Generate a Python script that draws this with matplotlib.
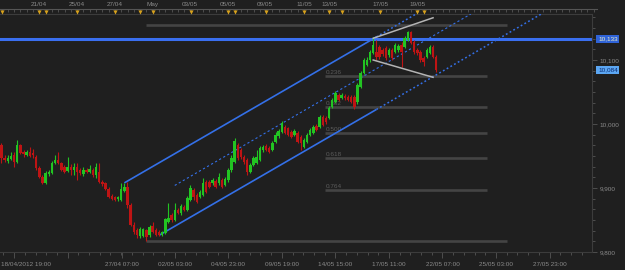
import matplotlib
matplotlib.use("Agg")
import matplotlib.pyplot as plt
from matplotlib.transforms import blended_transform_factory
from matplotlib.ticker import FixedLocator, FuncFormatter

# ---------------- data (4h bars, index = bar number) ----------------
opens = [9967, 9947, 9942, 9945, 9952, 9941, 9967, 9956, 9952, 9956,
         9955, 9948, 9931, 9917, 9908, 9922, 9923, 9939, 9944, 9939,
         9933, 9927, 9933, 9928, 9933, 9928, 9922, 9928, 9925, 9928,
         9920, 9925, 9909, 9908, 9898, 9888, 9886, 9883, 9881, 9895,
         9902, 9873, 9842, 9834, 9825, 9825, 9834, 9827, 9841, 9834,
         9831, 9827, 9830, 9847, 9858, 9850, 9866, 9861, 9870, 9866,
         9881, 9897, 9889, 9886, 9889, 9909, 9909, 9908, 9911, 9908,
         9912, 9905, 9912, 9928, 9941, 9967, 9959, 9948, 9944, 9925,
         9936, 9939, 9944, 9959, 9966, 9962, 9959, 9972, 9981, 9988,
         9995, 9994, 9988, 9983, 9986, 9980, 9964, 9972, 9983, 9986,
         9997, 9995, 10011, 10009, 10009, 10027, 10034, 10045, 10041, 10044,
         10042, 10042, 10042, 10034, 10058, 10080, 10092, 10100, 10111, 10112,
         10120, 10116, 10119, 10108, 10116, 10112, 10116, 10123, 10120, 10131,
         10144, 10128, 10116, 10112, 10103, 10105, 10111, 10120, 10105]
closes = [9947, 9944, 9947, 9950, 9941, 9967, 9955, 9953, 9956, 9950,
          9952, 9931, 9917, 9908, 9923, 9925, 9939, 9944, 9939, 9928,
          9925, 9933, 9928, 9933, 9925, 9923, 9928, 9925, 9930, 9920,
          9933, 9909, 9906, 9898, 9886, 9883, 9881, 9886, 9898, 9902,
          9873, 9842, 9831, 9827, 9836, 9836, 9823, 9839, 9831, 9827,
          9827, 9831, 9852, 9853, 9850, 9866, 9861, 9872, 9866, 9884,
          9900, 9886, 9878, 9894, 9908, 9894, 9902, 9912, 9902, 9917,
          9902, 9914, 9928, 9947, 9973, 9947, 9948, 9941, 9925, 9936,
          9947, 9948, 9962, 9964, 9959, 9956, 9970, 9983, 9989, 10002,
          9986, 9983, 9980, 9989, 9972, 9970, 9975, 9983, 9991, 9995,
          9991, 10011, 9998, 10003, 10025, 10038, 10048, 10038, 10045, 10041,
          10038, 10034, 10027, 10061, 10080, 10100, 10100, 10112, 10123, 10105,
          10105, 10109, 10103, 10116, 10103, 10123, 10122, 10112, 10134, 10144,
          10127, 10112, 10111, 10100, 10097, 10116, 10120, 10105, 10084]
highs = [9970, 9952, 9952, 9956, 9956, 9975, 9969, 9959, 9959, 9964,
         9961, 9952, 9934, 9920, 9927, 9928, 9942, 9952, 9956, 9941,
         9936, 9948, 9938, 9939, 9939, 9931, 9933, 9931, 9936, 9931,
         9939, 9939, 9912, 9909, 9902, 9891, 9888, 9888, 9908, 9908,
         9909, 9877, 9847, 9838, 9839, 9838, 9836, 9842, 9847, 9838,
         9834, 9833, 9853, 9877, 9861, 9877, 9869, 9875, 9873, 9888,
         9905, 9900, 9892, 9897, 9916, 9912, 9912, 9916, 9914, 9923,
         9916, 9917, 9931, 9952, 9978, 9970, 9962, 9952, 9947, 9939,
         9950, 9959, 9966, 9967, 9969, 9966, 9973, 9988, 9992, 10005,
         9998, 9995, 9991, 9992, 9989, 9983, 9978, 9986, 9994, 9998,
         10000, 10014, 10014, 10012, 10028, 10041, 10052, 10048, 10048, 10047,
         10045, 10045, 10045, 10064, 10083, 10103, 10105, 10116, 10136, 10131,
         10123, 10119, 10122, 10119, 10119, 10127, 10125, 10128, 10138, 10145,
         10145, 10131, 10119, 10116, 10106, 10119, 10123, 10123, 10108]
lows = [9939, 9941, 9939, 9944, 9933, 9939, 9953, 9948, 9950, 9948,
        9947, 9928, 9916, 9906, 9906, 9919, 9922, 9938, 9938, 9927,
        9923, 9925, 9920, 9920, 9912, 9920, 9919, 9923, 9923, 9917,
        9916, 9908, 9903, 9897, 9884, 9881, 9880, 9880, 9880, 9894,
        9869, 9841, 9828, 9822, 9822, 9823, 9817, 9823, 9830, 9825,
        9825, 9825, 9828, 9845, 9847, 9848, 9859, 9858, 9864, 9864,
        9880, 9881, 9877, 9884, 9888, 9892, 9900, 9905, 9900, 9905,
        9900, 9903, 9909, 9925, 9939, 9944, 9945, 9938, 9920, 9923,
        9934, 9938, 9942, 9956, 9958, 9955, 9958, 9970, 9978, 9986,
        9984, 9981, 9978, 9981, 9970, 9959, 9962, 9970, 9981, 9984,
        9989, 9994, 9997, 10000, 10008, 10025, 10033, 10036, 10039, 10038,
        10036, 10033, 10023, 10031, 10056, 10078, 10091, 10097, 10109, 10100,
        10102, 10106, 10100, 10105, 10100, 10111, 10112, 10089, 10119, 10130,
        10125, 10109, 10108, 10097, 10091, 10103, 10109, 10103, 10081]

level_price = 10133           # horizontal blue level
last_price = 10084            # last close tag
fib_high, fib_low = 10155, 9817
fib_ratios = [0.0, 0.236, 0.382, 0.5, 0.618, 0.764, 1.0]
fib_labels = ["", "0.236", "0.382", "0.500", "0.618", "0.764", ""]

# regression channel anchors (bar, price)
chan_slope = 2.85             # price per bar
upper_anchor = (39, 9908)
lower_anchor = (50, 9826)
middle_anchor = (55, 9904)
chan_solid_end = 119

# wedge lines drawn on the top (bar, price)
wedge_top = [(118, 10134), (137, 10166)]
wedge_bot = [(118, 10100), (137, 10073)]

yticks_major = [9800, 9900, 10000, 10100]
bottom_tick_bars = [4, 21, 38.2, 55.1, 72, 89, 106, 123, 140, 157, 174]
bottom_tick_labels = ["", "", "27/04 07:00", "02/05 03:00", "04/05 23:00",
                      "09/05 19:00", "14/05 15:00", "17/05 11:00",
                      "22/05 07:00", "25/05 03:00", "27/05 23:00"]
first_label = "18/04/2012 19:00"
top_tick_bars = [11.9, 24, 36, 47.8, 59.8, 71.9, 83.7, 96, 104.3, 120.2, 132.2]
top_tick_labels = ["21/04", "25/04", "27/04", "May", "03/05", "05/05",
                   "09/05", "11/05", "13/05", "17/05", "19/05"]
event_bars = [0, 12, 14, 24, 36, 44, 48, 60, 72, 74, 84, 96, 104, 108,
              120, 132, 134]

# ---------------- style ----------------
BG = "#1f1f1f"
GREEN = "#22c422"
RED = "#be1414"
BLUE = "#3470e8"
GRID = "#444444"
TXT = "#8a8a8a"
FONT = "Liberation Sans"
FS = 4.6
plt.rcParams["font.family"] = [FONT, "DejaVu Sans"]

W, H = 625, 270
fig = plt.figure(figsize=(W / 100, H / 100), dpi=100)
fig.patch.set_facecolor(BG)

px_left, px_right, px_top, px_bot = 0, 592, 14, 252
ax = fig.add_axes([px_left / W, 1 - px_bot / H, (px_right - px_left) / W,
                   (px_bot - px_top) / H])
ax.set_facecolor(BG)
bar_px = 3.15
x0 = -1.5 / bar_px
x1 = x0 + (px_right - px_left) / bar_px
ax.set_xlim(x0, x1)
ax.set_ylim(9800, 10171.9)

# fib levels
rng = fib_high - fib_low
for r, lab in zip(fib_ratios, fib_labels):
    p = fib_high - r * rng
    if r in (0.0, 1.0):
        ax.hlines(p, 46, 160.5, color=GRID, lw=1.9, zorder=1)
    else:
        ax.hlines(p, 102.7, 154.1, color=GRID, lw=1.9, zorder=1)
        ax.text(103, p + 2.0, lab, color="#5c5c5c", fontsize=FS,
                ha="left", va="bottom", zorder=1)

# horizontal level
ax.axhline(level_price, color="#3a6ff0", lw=2.2, zorder=2)

# channel
def chan(anchor, b):
    return anchor[1] + (b - anchor[0]) * chan_slope

top_lim = 10171.9
for anc in (upper_anchor, lower_anchor):
    b_end = anc[0] + (top_lim - anc[1]) / chan_slope
    ax.plot([anc[0], chan_solid_end], [chan(anc, anc[0]), chan(anc, chan_solid_end)],
            color=BLUE, lw=1.2, zorder=3, solid_capstyle="butt")
    ax.plot([chan_solid_end, b_end], [chan(anc, chan_solid_end), top_lim],
            color=BLUE, lw=1.1, ls=(0, (1.2, 1.6)), zorder=3)
b_end_mid = middle_anchor[0] + (top_lim - middle_anchor[1]) / chan_slope
ax.plot([middle_anchor[0], b_end_mid], [middle_anchor[1], top_lim],
        color=BLUE, lw=0.8, ls=(0, (2.0, 2.2)), zorder=3)

# candles
for i, (o, h, l, c) in enumerate(zip(opens, highs, lows, closes)):
    col = GREEN if c >= o else RED
    ax.vlines(i, l, h, color=col, lw=0.8, zorder=4)
    lo, hi = min(o, c), max(o, c)
    if hi - lo < 1.4:
        hi = lo + 1.4
    ax.bar(i, hi - lo, bottom=lo, width=0.78, color=col, linewidth=0, zorder=5)

# wedge lines
for seg in (wedge_top, wedge_bot):
    ax.plot([seg[0][0], seg[1][0]], [seg[0][1], seg[1][1]], color="#b4b4b4",
            lw=1.1, zorder=6)

# spines
ax.spines["left"].set_visible(False)
for s in ("right", "bottom", "top"):
    ax.spines[s].set_color("#3c3c3c")
    ax.spines[s].set_linewidth(0.8)

# right axis
ax.yaxis.tick_right()
ax.yaxis.set_major_locator(FixedLocator(yticks_major))
minors = [9800 + k * 100 / 6 for k in range(0, 23)]
ax.yaxis.set_minor_locator(FixedLocator(minors))
ax.yaxis.set_major_formatter(FuncFormatter(lambda v, p: f"{v:,.0f}"))
ax.tick_params(axis="y", which="major", length=3.5, width=0.6, color="#555555",
               labelsize=FS, labelcolor=TXT, pad=2)
ax.tick_params(axis="y", which="minor", length=2, width=0.6, color="#555555")

# bottom axis
ax.xaxis.set_major_locator(FixedLocator(bottom_tick_bars))
ax.set_xticklabels(bottom_tick_labels)
bminor = [bottom_tick_bars[0] + k * 17.0 / 5 for k in range(-1, 56)]
ax.xaxis.set_minor_locator(FixedLocator(bminor))
ax.tick_params(axis="x", which="major", length=4.5, width=0.6, color="#555555",
               labelsize=FS, labelcolor=TXT, pad=3)
ax.tick_params(axis="x", which="minor", length=2, width=0.6, color="#555555")
fig.text(1 / W, 1 - 265 / H, first_label, color=TXT, fontsize=FS,
         ha="left", va="center")

# price tags
tr = blended_transform_factory(ax.transAxes, ax.transData)
ax.text(598 / 592, level_price, "10,133", transform=tr, fontsize=FS,
        color="#f0f0c0", ha="left", va="center", zorder=10, clip_on=False,
        bbox=dict(boxstyle="square,pad=0.25", fc="#2f63d8", ec="none"))
ax.text(598 / 592, last_price, "10,084", transform=tr, fontsize=FS,
        color="#0b2a70", ha="left", va="center", zorder=10, clip_on=False,
        bbox=dict(boxstyle="square,pad=0.25", fc="#5ba6f2", ec="none"))

# top axis strip
t_right = 597
axt = fig.add_axes([0, 1 - px_top / H, t_right / W, (px_top - 9) / H])
axt.set_facecolor("none")
axt.set_xlim(x0, x0 + t_right / bar_px)
axt.set_ylim(0, 1)
for s in ("left", "right", "bottom"):
    axt.spines[s].set_visible(False)
axt.spines["top"].set_color("#555555")
axt.spines["top"].set_linewidth(0.8)
axt.yaxis.set_visible(False)
axt.xaxis.tick_top()
axt.xaxis.set_major_locator(FixedLocator(top_tick_bars))
axt.set_xticklabels(top_tick_labels)
axt.xaxis.set_minor_locator(FixedLocator(list(range(0, 190, 2))))
axt.tick_params(axis="x", which="both", direction="in", length=2.2, width=0.6,
                color="#555555", labelsize=FS, labelcolor=TXT, pad=1.2)
axt.scatter(event_bars, [0.45] * len(event_bars), marker="v", s=9,
            color="#d8a21c", linewidths=0, clip_on=False, zorder=5)

fig.savefig("out.png", dpi=100, facecolor=BG)
